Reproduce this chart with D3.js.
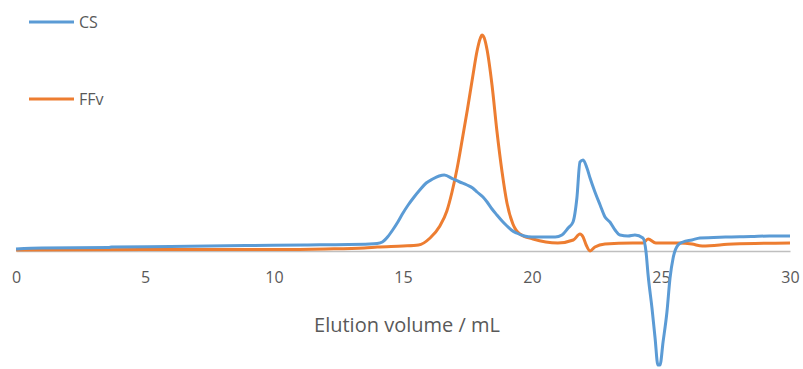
<!DOCTYPE html>
<html>
<head>
<meta charset="utf-8">
<script src="https://cdn.jsdelivr.net/npm/d3@7"></script>
<style>
  html, body { margin: 0; padding: 0; background: #fff; }
  svg text { font-family: "Open Sans", "Noto Sans", sans-serif; fill: #595959; }
</style>
</head>
<body>
<svg id="chart" width="803" height="369"></svg>
<script>
// Elution volume (mL) and detector signal (arbitrary units) for each trace
const csVolume = [0, 1.0, 3.6, 3.7, 6.0, 8.9, 11.2, 13.7, 14.0, 14.2, 14.4, 14.6, 14.8, 15.0, 15.2, 15.4, 15.65, 15.9, 16.15, 16.4, 16.6, 16.94, 17.2, 17.48, 17.7, 17.87, 18.1, 18.26, 18.45, 18.64, 18.84, 19.03, 19.2, 19.4, 19.7, 20.0, 20.5, 20.9, 21.16, 21.4, 21.59, 21.74, 21.86, 21.98, 22.13, 22.25, 22.44, 22.64, 22.83, 23.02, 23.22, 23.41, 23.72, 23.99, 24.3, 24.42, 24.5, 24.65, 24.77, 24.88, 24.96, 25.08, 25.23, 25.35, 25.47, 25.66, 25.85, 26.2, 26.51, 27.5, 28.5, 29.2, 30.0];
const csSignal = [2, 3, 3.5, 4, 4.5, 5.5, 6, 7, 7.5, 9, 14, 21, 29, 38, 46, 53, 61, 68, 72, 75, 76, 72, 69, 66, 63, 59, 54, 49, 42, 36, 30, 25, 21, 18, 15, 14, 14, 14, 16, 23, 29, 53, 89, 91, 83, 73, 59, 46, 34, 29, 21, 16, 15, 16, 13, -1, -24, -57, -87, -114, -114, -91, -61, -27, -7, 6, 9, 11, 13, 14, 14.5, 15, 15];

const ffvVolume = [0, 5, 10, 12, 13.5, 14.0, 15.0, 15.6, 16.05, 16.43, 16.7, 16.9, 17.1, 17.3, 17.5, 17.7, 17.87, 18.0, 18.06, 18.15, 18.26, 18.45, 18.64, 18.84, 19.03, 19.26, 19.53, 20.04, 21.0, 21.6, 21.86, 21.98, 22.1, 22.25, 22.44, 22.83, 23.9, 24.3, 24.5, 24.8, 25.7, 26.2, 26.6, 27.8, 30];
const ffvSignal = [1, 1.5, 1.5, 2, 3, 4, 5, 6, 13, 25, 40, 59, 83, 112, 142, 174, 200, 213, 216, 213, 201, 166, 120, 79, 48, 27, 17, 12, 8, 11, 17, 14, 6, 0, 4, 7, 8, 8, 12, 8, 8, 7, 5, 7, 8];

const xTicks = [0, 5, 10, 15, 20, 25, 30];
const seriesNames = ["CS", "FFv"];
const seriesColors = ["#5B9BD5", "#ED7D31"];

const svg = d3.select("#chart");

const x = d3.scaleLinear().domain([0, 30]).range([16, 790]);
const y = d3.scaleLinear().domain([-120, 240]).range([371, 11]);

// Horizontal axis along the zero line, labels only (no tick marks)
const xAxis = d3.axisBottom(x)
  .tickValues(xTicks)
  .tickFormat(d3.format("d"))
  .tickSize(0)
  .tickPadding(21);

const axisG = svg.append("g")
  .attr("transform", `translate(0,${y(0)})`)
  .call(xAxis);
axisG.select(".domain").attr("stroke", "#bfbfbf").attr("stroke-width", 1.5);
axisG.selectAll(".tick text")
  .style("font-family", "'Open Sans', 'Noto Sans', sans-serif")
  .style("font-size", "16px")
  .attr("fill", "#595959");

// Axis title
svg.append("text")
  .attr("x", 407)
  .attr("y", 332)
  .attr("text-anchor", "middle")
  .style("font-size", "20px")
  .text("Elution volume / mL");

const line = d3.line()
  .x(d => x(d[0]))
  .y(d => y(d[1]))
  .curve(d3.curveMonotoneX);

const series = [
  d3.zip(csVolume, csSignal),
  d3.zip(ffvVolume, ffvSignal)
];

// FFv first, CS drawn over it where the two traces overlap
svg.append("path")
  .datum(series[1])
  .attr("fill", "none")
  .attr("stroke", seriesColors[1])
  .attr("stroke-width", 3)
  .attr("stroke-linejoin", "round")
  .attr("d", line);

svg.append("path")
  .datum(series[0])
  .attr("fill", "none")
  .attr("stroke", seriesColors[0])
  .attr("stroke-width", 3)
  .attr("stroke-linejoin", "round")
  .attr("d", line);

// Legend
const legendY = [22, 99];
const legend = svg.append("g");
seriesNames.forEach((name, i) => {
  legend.append("line")
    .attr("x1", 29).attr("x2", 74)
    .attr("y1", legendY[i]).attr("y2", legendY[i])
    .attr("stroke", seriesColors[i])
    .attr("stroke-width", 3);
  legend.append("text")
    .attr("x", 79)
    .attr("y", legendY[i])
    .attr("dy", "0.35em")
    .style("font-size", "16px")
    .text(name);
});
</script>
</body>
</html>
